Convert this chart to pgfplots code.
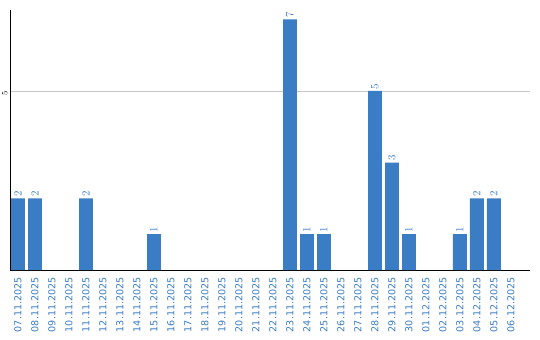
\documentclass[border=0pt]{standalone}
\usepackage{pgfplots}
\pgfplotsset{compat=1.18}
\usepackage{fontspec}
\setmainfont{DejaVu Sans}
\definecolor{barblue}{HTML}{3B7DC4}
\begin{document}
\begin{tikzpicture}
\useasboundingbox (-10bp,-70bp) rectangle (530bp,270bp);
\begin{axis}[
  scale only axis, width=520bp, height=260bp,
  xmin=-0.47, xmax=30.12, ymin=0, ymax=7.26,
  axis x line*=bottom, axis y line*=left,
  axis line style={-, black, line width=0.8bp},
  xtick={0,...,29},
  xticklabels={07.11.2025,08.11.2025,09.11.2025,10.11.2025,11.11.2025,12.11.2025,13.11.2025,14.11.2025,15.11.2025,16.11.2025,17.11.2025,18.11.2025,19.11.2025,20.11.2025,21.11.2025,22.11.2025,23.11.2025,24.11.2025,25.11.2025,26.11.2025,27.11.2025,28.11.2025,29.11.2025,30.11.2025,01.12.2025,02.12.2025,03.12.2025,04.12.2025,05.12.2025,06.12.2025},
  x tick label style={rotate=90, anchor=east, font=\fontsize{9.6bp}{11bp}\selectfont, text=barblue, inner sep=0pt, xshift=-7bp},
  ytick={5},
  yticklabel style={rotate=90, anchor=south, font=\fontsize{7.5bp}{9bp}\selectfont, inner sep=0pt, yshift=2.5bp, xshift=-2.5bp},
  ymajorgrids, grid style={draw=black!22, line width=0.8bp},
  major tick length=0pt,
  ybar, bar width=0.82,
  nodes near coords,
  nodes near coords style={rotate=90, anchor=west, font=\fontsize{10.5bp}{12bp}\selectfont, text=barblue, inner sep=1.5bp},
]
\addplot[fill=barblue, draw=none] coordinates {
  (0,2) (1,2) (4,2) (8,1) (16,7) (17,1) (18,1) (21,5) (22,3) (23,1) (26,1) (27,2) (28,2)
};
\end{axis}
\end{tikzpicture}
\end{document}
